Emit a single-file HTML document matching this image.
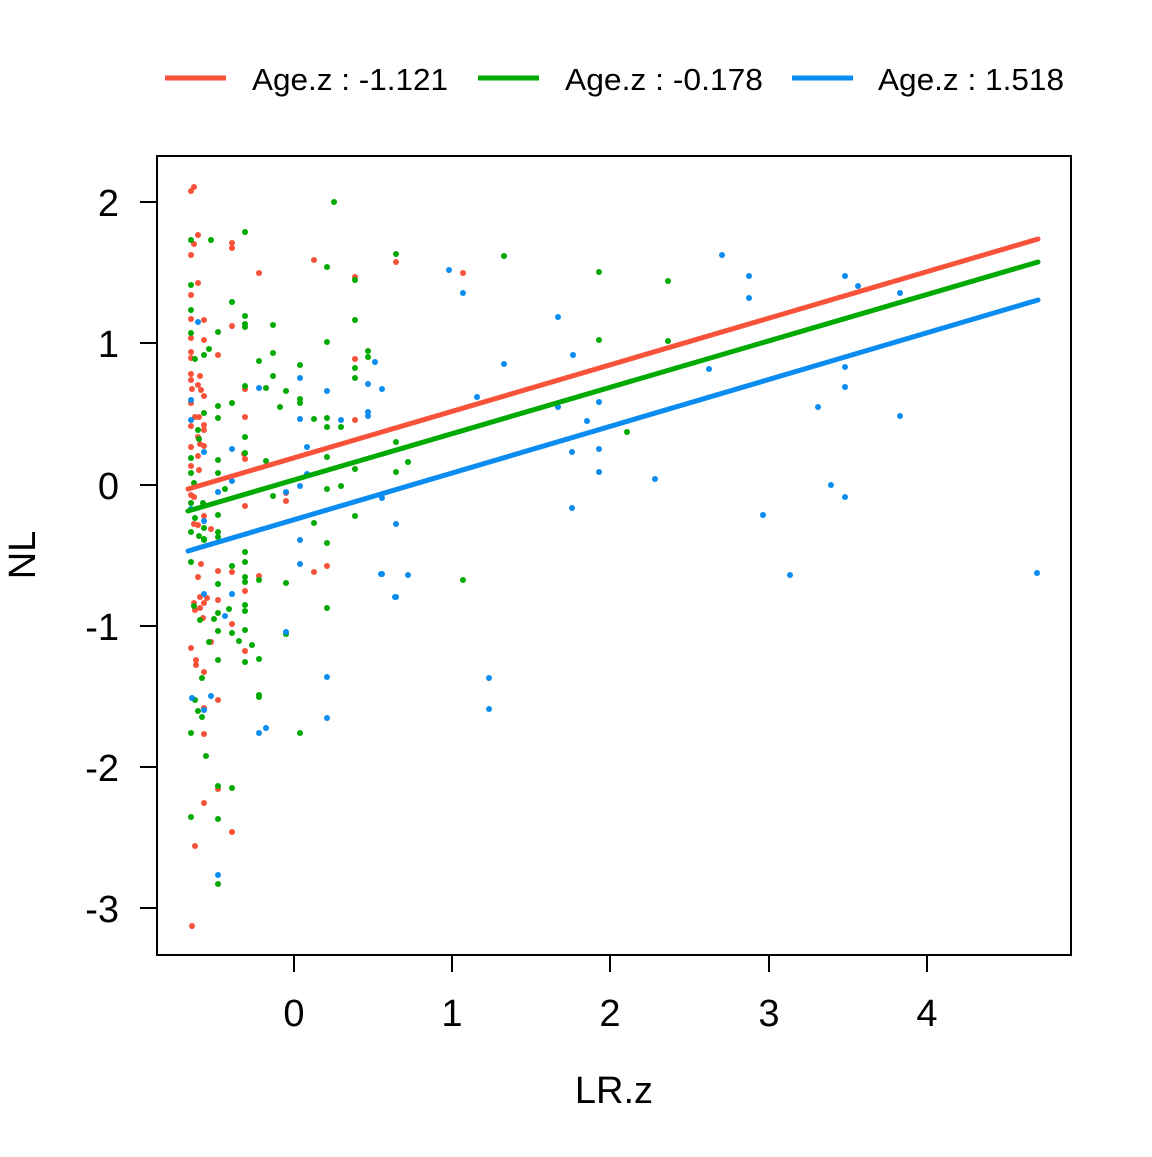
<!DOCTYPE html>
<html><head><meta charset="utf-8"><style>
html,body{margin:0;padding:0;background:#fff;}
svg text{font-family:"Liberation Sans",Arial,sans-serif;fill:#000;}
</style></head><body>
<svg width="1152" height="1152" viewBox="0 0 1152 1152" xmlns="http://www.w3.org/2000/svg">
<rect width="1152" height="1152" fill="#fff"/>
<g stroke-width="5">
<line x1="165" y1="78" x2="226" y2="78" stroke="#F8533A"/>
<line x1="478" y1="78" x2="539" y2="78" stroke="#00AA00"/>
<line x1="792" y1="78" x2="853" y2="78" stroke="#0A8CF0"/>
</g>
<g font-size="31">
<text x="252" y="90" textLength="196" lengthAdjust="spacingAndGlyphs">Age.z : -1.121</text>
<text x="565" y="90" textLength="198" lengthAdjust="spacingAndGlyphs">Age.z : -0.178</text>
<text x="878" y="90" textLength="186" lengthAdjust="spacingAndGlyphs">Age.z : 1.518</text>
</g>
<g fill="#F8533A">
<circle cx="191" cy="191" r="3"/><circle cx="194" cy="187" r="3"/><circle cx="198" cy="235" r="3"/><circle cx="194" cy="244" r="3"/><circle cx="191" cy="255" r="3"/><circle cx="232" cy="243" r="3"/><circle cx="232" cy="248" r="3"/><circle cx="314" cy="260" r="3"/><circle cx="259" cy="273" r="3"/><circle cx="355" cy="277" r="3"/><circle cx="396" cy="262" r="3"/><circle cx="198" cy="283" r="3"/><circle cx="191" cy="295" r="3"/><circle cx="191" cy="319" r="3"/><circle cx="204" cy="320" r="3"/><circle cx="232" cy="326" r="3"/><circle cx="191" cy="338" r="3"/><circle cx="204" cy="340" r="3"/><circle cx="191" cy="352" r="3"/><circle cx="218" cy="355" r="3"/><circle cx="191" cy="358" r="3"/><circle cx="355" cy="359" r="3"/><circle cx="191" cy="374" r="3"/><circle cx="200" cy="376" r="3"/><circle cx="191" cy="380" r="3"/><circle cx="198" cy="385" r="3"/><circle cx="192" cy="389" r="3"/><circle cx="201" cy="390" r="3"/><circle cx="204" cy="396" r="3"/><circle cx="191" cy="403" r="3"/><circle cx="245" cy="389" r="3"/><circle cx="191" cy="426" r="3"/><circle cx="195" cy="417" r="3"/><circle cx="199" cy="417" r="3"/><circle cx="204" cy="425" r="3"/><circle cx="204" cy="430" r="3"/><circle cx="198" cy="437" r="3"/><circle cx="200" cy="444" r="3"/><circle cx="204" cy="446" r="3"/><circle cx="191" cy="447" r="3"/><circle cx="245" cy="417" r="3"/><circle cx="355" cy="420" r="3"/><circle cx="198" cy="456" r="3"/><circle cx="191" cy="466" r="3"/><circle cx="199" cy="470" r="3"/><circle cx="244" cy="454" r="3"/><circle cx="245" cy="459" r="3"/><circle cx="191" cy="495" r="3"/><circle cx="194" cy="497" r="3"/><circle cx="286" cy="493" r="3"/><circle cx="286" cy="501" r="3"/><circle cx="245" cy="506" r="3"/><circle cx="204" cy="516" r="3"/><circle cx="194" cy="524" r="3"/><circle cx="198" cy="525" r="3"/><circle cx="211" cy="529" r="3"/><circle cx="463" cy="273" r="3"/>
<circle cx="201" cy="564" r="3"/><circle cx="198" cy="577" r="3"/><circle cx="218" cy="571" r="3"/><circle cx="232" cy="572" r="3"/><circle cx="259" cy="576" r="3"/><circle cx="314" cy="572" r="3"/><circle cx="327" cy="566" r="3"/><circle cx="245" cy="591" r="3"/><circle cx="200" cy="597" r="3"/><circle cx="207" cy="598" r="3"/><circle cx="218" cy="600" r="3"/><circle cx="204" cy="603" r="3"/><circle cx="194" cy="603" r="3"/><circle cx="200" cy="608" r="3"/><circle cx="195" cy="610" r="3"/><circle cx="203" cy="618" r="3"/><circle cx="232" cy="624" r="3"/><circle cx="211" cy="642" r="3"/><circle cx="191" cy="648" r="3"/><circle cx="245" cy="651" r="3"/><circle cx="196" cy="660" r="3"/><circle cx="196" cy="665" r="3"/><circle cx="204" cy="672" r="3"/><circle cx="218" cy="700" r="3"/><circle cx="204" cy="708" r="3"/><circle cx="204" cy="734" r="3"/><circle cx="218" cy="789" r="3"/><circle cx="204" cy="803" r="3"/><circle cx="232" cy="832" r="3"/><circle cx="195" cy="846" r="3"/><circle cx="192" cy="926" r="3"/>
</g>
<g fill="#00AA00">
<circle cx="334" cy="202" r="3"/><circle cx="245" cy="232" r="3"/><circle cx="191" cy="240" r="3"/><circle cx="211" cy="240" r="3"/><circle cx="327" cy="267" r="3"/><circle cx="355" cy="280" r="3"/><circle cx="396" cy="254" r="3"/><circle cx="191" cy="285" r="3"/><circle cx="232" cy="302" r="3"/><circle cx="191" cy="310" r="3"/><circle cx="245" cy="316" r="3"/><circle cx="245" cy="324" r="3"/><circle cx="245" cy="327" r="3"/><circle cx="273" cy="325" r="3"/><circle cx="355" cy="320" r="3"/><circle cx="191" cy="333" r="3"/><circle cx="218" cy="332" r="3"/><circle cx="327" cy="342" r="3"/><circle cx="209" cy="349" r="3"/><circle cx="204" cy="355" r="3"/><circle cx="273" cy="353" r="3"/><circle cx="368" cy="351" r="3"/><circle cx="368" cy="357" r="3"/><circle cx="195" cy="359" r="3"/><circle cx="259" cy="361" r="3"/><circle cx="300" cy="365" r="3"/><circle cx="355" cy="368" r="3"/><circle cx="273" cy="376" r="3"/><circle cx="355" cy="378" r="3"/><circle cx="245" cy="386" r="3"/><circle cx="266" cy="388" r="3"/><circle cx="286" cy="391" r="3"/><circle cx="300" cy="399" r="3"/><circle cx="300" cy="403" r="3"/><circle cx="218" cy="406" r="3"/><circle cx="232" cy="403" r="3"/><circle cx="280" cy="407" r="3"/><circle cx="204" cy="413" r="3"/><circle cx="218" cy="418" r="3"/><circle cx="314" cy="419" r="3"/><circle cx="327" cy="418" r="3"/><circle cx="327" cy="427" r="3"/><circle cx="341" cy="427" r="3"/><circle cx="198" cy="430" r="3"/><circle cx="199" cy="439" r="3"/><circle cx="245" cy="437" r="3"/><circle cx="191" cy="458" r="3"/><circle cx="218" cy="460" r="3"/><circle cx="266" cy="461" r="3"/><circle cx="245" cy="453" r="3"/><circle cx="327" cy="457" r="3"/><circle cx="396" cy="442" r="3"/><circle cx="191" cy="473" r="3"/><circle cx="218" cy="473" r="3"/><circle cx="355" cy="469" r="3"/><circle cx="396" cy="472" r="3"/><circle cx="194" cy="483" r="3"/><circle cx="225" cy="489" r="3"/><circle cx="327" cy="489" r="3"/><circle cx="341" cy="486" r="3"/><circle cx="273" cy="496" r="3"/><circle cx="191" cy="503" r="3"/><circle cx="203" cy="503" r="3"/><circle cx="218" cy="515" r="3"/><circle cx="355" cy="516" r="3"/><circle cx="195" cy="518" r="3"/><circle cx="204" cy="528" r="3"/><circle cx="191" cy="532" r="3"/><circle cx="218" cy="532" r="3"/><circle cx="218" cy="537" r="3"/><circle cx="199" cy="536" r="3"/><circle cx="204" cy="539" r="3"/><circle cx="314" cy="523" r="3"/><circle cx="327" cy="543" r="3"/>
<circle cx="504" cy="256" r="3"/><circle cx="599" cy="272" r="3"/><circle cx="599" cy="340" r="3"/><circle cx="627" cy="432" r="3"/><circle cx="668" cy="281" r="3"/><circle cx="668" cy="341" r="3"/><circle cx="463" cy="580" r="3"/><circle cx="408" cy="462" r="3"/>
<circle cx="204" cy="540" r="3"/><circle cx="245" cy="552" r="3"/><circle cx="245" cy="562" r="3"/><circle cx="191" cy="562" r="3"/><circle cx="232" cy="566" r="3"/><circle cx="245" cy="577" r="3"/><circle cx="245" cy="582" r="3"/><circle cx="259" cy="580" r="3"/><circle cx="286" cy="583" r="3"/><circle cx="218" cy="584" r="3"/><circle cx="194" cy="606" r="3"/><circle cx="229" cy="609" r="3"/><circle cx="245" cy="605" r="3"/><circle cx="245" cy="611" r="3"/><circle cx="218" cy="613" r="3"/><circle cx="214" cy="619" r="3"/><circle cx="200" cy="620" r="3"/><circle cx="218" cy="631" r="3"/><circle cx="232" cy="633" r="3"/><circle cx="245" cy="630" r="3"/><circle cx="286" cy="634" r="3"/><circle cx="327" cy="608" r="3"/><circle cx="209" cy="642" r="3"/><circle cx="239" cy="641" r="3"/><circle cx="252" cy="645" r="3"/><circle cx="218" cy="660" r="3"/><circle cx="245" cy="662" r="3"/><circle cx="259" cy="659" r="3"/><circle cx="202" cy="678" r="3"/><circle cx="195" cy="700" r="3"/><circle cx="198" cy="711" r="3"/><circle cx="202" cy="717" r="3"/><circle cx="259" cy="695" r="3"/><circle cx="259" cy="697" r="3"/><circle cx="191" cy="733" r="3"/><circle cx="300" cy="733" r="3"/><circle cx="206" cy="756" r="3"/><circle cx="218" cy="786" r="3"/><circle cx="232" cy="788" r="3"/><circle cx="191" cy="817" r="3"/><circle cx="218" cy="819" r="3"/><circle cx="218" cy="884" r="3"/>
</g>
<g fill="#0A8CF0">
<circle cx="198" cy="322" r="3"/><circle cx="375" cy="362" r="3"/><circle cx="259" cy="388" r="3"/><circle cx="300" cy="378" r="3"/><circle cx="327" cy="391" r="3"/><circle cx="368" cy="384" r="3"/><circle cx="382" cy="389" r="3"/><circle cx="191" cy="400" r="3"/><circle cx="191" cy="420" r="3"/><circle cx="300" cy="419" r="3"/><circle cx="341" cy="420" r="3"/><circle cx="368" cy="412" r="3"/><circle cx="368" cy="416" r="3"/><circle cx="232" cy="449" r="3"/><circle cx="307" cy="447" r="3"/><circle cx="204" cy="452" r="3"/><circle cx="232" cy="481" r="3"/><circle cx="307" cy="474" r="3"/><circle cx="300" cy="486" r="3"/><circle cx="286" cy="492" r="3"/><circle cx="218" cy="492" r="3"/><circle cx="382" cy="498" r="3"/><circle cx="396" cy="524" r="3"/><circle cx="204" cy="521" r="3"/><circle cx="191" cy="509" r="3"/><circle cx="300" cy="540" r="3"/>
<circle cx="300" cy="564" r="3"/><circle cx="382" cy="574" r="3"/><circle cx="396" cy="597" r="3"/><circle cx="204" cy="594" r="3"/><circle cx="232" cy="594" r="3"/><circle cx="225" cy="616" r="3"/><circle cx="286" cy="632" r="3"/><circle cx="327" cy="677" r="3"/><circle cx="192" cy="698" r="3"/><circle cx="211" cy="696" r="3"/><circle cx="204" cy="710" r="3"/><circle cx="327" cy="718" r="3"/><circle cx="266" cy="728" r="3"/><circle cx="259" cy="733" r="3"/><circle cx="218" cy="875" r="3"/>
<circle cx="449" cy="270" r="3"/><circle cx="463" cy="293" r="3"/><circle cx="477" cy="397" r="3"/><circle cx="504" cy="364" r="3"/><circle cx="558" cy="317" r="3"/><circle cx="558" cy="407" r="3"/><circle cx="573" cy="355" r="3"/><circle cx="587" cy="421" r="3"/><circle cx="572" cy="452" r="3"/><circle cx="572" cy="508" r="3"/><circle cx="599" cy="402" r="3"/><circle cx="599" cy="449" r="3"/><circle cx="599" cy="472" r="3"/><circle cx="655" cy="479" r="3"/><circle cx="709" cy="369" r="3"/><circle cx="722" cy="255" r="3"/><circle cx="749" cy="276" r="3"/><circle cx="749" cy="298" r="3"/><circle cx="763" cy="515" r="3"/><circle cx="790" cy="575" r="3"/><circle cx="831" cy="485" r="3"/><circle cx="845" cy="276" r="3"/><circle cx="845" cy="367" r="3"/><circle cx="845" cy="387" r="3"/><circle cx="845" cy="497" r="3"/><circle cx="858" cy="286" r="3"/><circle cx="900" cy="293" r="3"/><circle cx="900" cy="416" r="3"/><circle cx="1037" cy="573" r="3"/><circle cx="489" cy="678" r="3"/><circle cx="489" cy="709" r="3"/><circle cx="381" cy="574" r="3"/><circle cx="408" cy="575" r="3"/><circle cx="395" cy="597" r="3"/><circle cx="818" cy="407" r="3"/>
</g>
<g stroke-width="5" stroke-linecap="round">
<line x1="188" y1="489" x2="1038" y2="239" stroke="#F8533A"/>
<line x1="188" y1="511" x2="1038" y2="262" stroke="#00AA00"/>
<line x1="188" y1="551" x2="1038" y2="300" stroke="#0A8CF0"/>
</g>
<rect x="157" y="156" width="914" height="799" fill="none" stroke="#000" stroke-width="2"/>
<g stroke="#000" stroke-width="2">
<line x1="294" y1="955" x2="294" y2="972"/><line x1="452" y1="955" x2="452" y2="972"/><line x1="610" y1="955" x2="610" y2="972"/><line x1="769" y1="955" x2="769" y2="972"/><line x1="927" y1="955" x2="927" y2="972"/>
<line x1="140" y1="202" x2="157" y2="202"/><line x1="140" y1="343" x2="157" y2="343"/><line x1="140" y1="485" x2="157" y2="485"/><line x1="140" y1="626" x2="157" y2="626"/><line x1="140" y1="767" x2="157" y2="767"/><line x1="140" y1="908" x2="157" y2="908"/>
</g>
<g font-size="38" text-anchor="middle">
<text x="294" y="1026">0</text><text x="452" y="1026">1</text><text x="610" y="1026">2</text><text x="769" y="1026">3</text><text x="927" y="1026">4</text>
<text x="614" y="1103">LR.z</text>
</g>
<g font-size="38" text-anchor="end">
<text x="119" y="216">2</text><text x="119" y="357">1</text><text x="119" y="499">0</text><text x="119" y="640">-1</text><text x="119" y="781">-2</text><text x="119" y="922">-3</text>
</g>
<text x="35" y="555" font-size="38" text-anchor="middle" transform="rotate(-90 35 555)">NL</text>
</svg>
</body></html>
